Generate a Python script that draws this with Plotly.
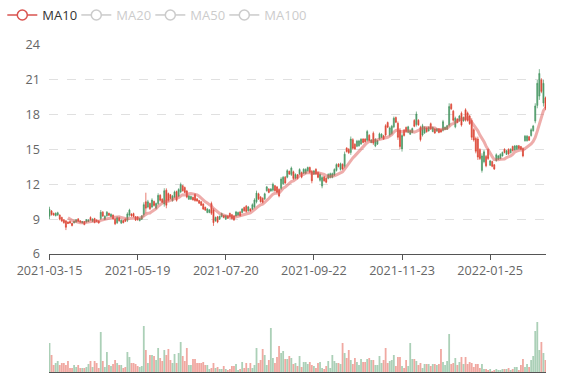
import plotly.graph_objects as go
import pandas as pd

# ---------------- categories (trading days) ----------------
closed_days = ["2021-04-05", "2021-05-03", "2021-05-04", "2021-05-05", "2021-06-14",
               "2021-09-03", "2021-09-20", "2021-09-21", "2021-10-01", "2021-12-31",
               "2022-01-03", "2022-01-31", "2022-02-01", "2022-02-02", "2022-02-03",
               "2022-02-04"]
dates = [d.strftime("%Y-%m-%d") for d in pd.bdate_range("2021-03-15", "2022-03-10")
         if d.strftime("%Y-%m-%d") not in closed_days]

tick_labels = ["2021-03-15", "2021-05-19", "2021-07-20", "2021-09-22", "2021-11-23", "2022-01-25"]
price_ticks = [6, 9, 12, 15, 18, 21, 24]

# ---------------- OHLC ----------------
opens = [
    9.25, 9.70, 9.50, 9.30, 9.35, 9.35, 9.15, 8.95, 8.85, 8.75,
    8.80, 8.65, 8.68, 8.76, 9.02, 8.86, 8.68, 8.78, 8.76, 8.80,
    9.15, 8.82, 9.05, 8.93, 8.85, 9.05, 9.60, 9.00, 9.30, 9.50,
    9.22, 9.35, 9.00, 8.70, 9.12, 8.66, 8.88, 9.00, 8.90, 9.35,
    9.45, 9.48, 9.20, 9.18, 8.88, 9.00, 9.40, 10.50,
    10.05, 10.35, 10.05, 10.52, 9.95, 10.35, 11.05, 10.72, 10.30, 11.50, 11.20, 11.10,
    10.60, 10.90, 11.38, 10.98, 11.35, 11.88, 11.72, 11.42, 10.72, 10.72,
    10.88, 11.12, 10.75, 10.60, 10.50, 10.30, 10.02, 9.58, 9.58, 10.35,
    9.80, 8.85, 9.20, 9.00, 9.22, 9.32, 9.00, 9.28, 9.50, 9.38,
    9.28, 9.28, 9.35, 9.62, 9.58, 10.00,
    10.12, 9.72, 9.88, 9.85, 10.05, 10.50, 11.18, 10.90, 10.80, 10.75,
    11.45, 11.60, 11.42, 11.50, 11.88, 11.78, 11.55, 11.65, 12.05, 12.62,
    12.62, 13.12, 12.85, 13.08, 12.52, 12.82, 12.90, 13.02, 12.96, 12.95,
    13.16, 13.45, 13.12, 12.88, 13.30, 13.02, 12.35, 11.85, 12.65, 12.52,
    12.52, 12.60, 12.60, 12.82, 13.20, 13.75, 13.28, 13.72,
    13.55, 15.12, 15.02, 14.75, 15.85, 15.45, 15.28, 15.32, 15.48, 15.90,
    15.90, 15.80, 16.22, 15.60, 16.40, 15.30, 15.46, 15.92, 16.04, 16.18,
    17.05, 17.32, 16.25, 16.38, 16.95, 17.75, 17.25, 16.65, 15.05, 16.66,
    16.90, 16.48, 16.32, 16.46, 17.50, 17.15, 17.52, 16.90, 16.25, 16.42,
    16.85, 16.60, 17.22, 16.55, 16.76, 16.58, 16.78, 16.70, 16.65,
    16.72, 16.75, 17.10, 18.90, 18.30, 16.95, 17.62, 17.48, 18.12, 17.46,
    18.42, 18.15, 17.88, 17.50, 16.70, 15.95, 15.90, 15.00, 13.20, 13.95,
    14.40, 14.98, 13.65, 13.96, 13.68, 14.05, 14.16, 14.22, 14.45, 15.02,
    14.58, 15.02, 14.72, 15.26, 14.96, 15.02, 15.32, 15.25, 15.08, 15.75,
    15.76, 16.10, 16.20, 16.62, 17.45, 18.80, 19.60, 20.98, 19.00, 19.45,
]
closes = [
    9.85, 9.40, 9.35, 9.50, 9.55, 9.00, 8.85, 8.70, 8.30, 8.62,
    8.66, 8.45, 8.82, 8.95, 8.82, 8.74, 8.80, 8.55, 8.95, 8.93,
    8.95, 9.00, 8.72, 8.80, 8.68, 9.60, 9.28, 9.25, 9.60, 9.33,
    9.42, 9.02, 8.60, 9.12, 8.86, 8.90, 8.70, 8.82, 9.45, 9.78,
    9.28, 9.22, 8.92, 8.95, 9.05, 9.28, 10.25, 9.95,
    10.50, 9.90, 10.65, 10.18, 10.35, 11.05, 10.62, 10.45, 11.45, 10.20, 10.62, 10.78,
    10.98, 11.35, 10.62, 11.55, 11.98, 11.45, 11.30, 10.90, 11.00, 10.96,
    10.66, 10.60, 10.56, 10.38, 10.20, 9.88, 9.78, 9.88, 9.80, 9.50,
    8.70, 9.15, 8.75, 9.25, 9.48, 9.14, 9.30, 9.08, 9.22, 9.06,
    8.95, 9.62, 9.58, 9.30, 9.88, 9.72,
    9.65, 10.05, 9.70, 10.25, 10.65, 11.25, 10.75, 10.50, 10.45, 11.18,
    11.78, 11.30, 11.60, 12.00, 11.45, 11.32, 11.00, 12.45, 12.60, 12.12,
    13.18, 12.88, 13.40, 12.50, 12.85, 12.52, 13.28, 12.62, 13.30, 13.28,
    13.45, 13.05, 12.30, 13.15, 12.90, 12.60, 12.85, 12.58, 12.30, 12.18,
    12.85, 12.92, 12.92, 13.28, 13.70, 13.52, 13.78, 13.32,
    14.60, 14.82, 14.72, 15.90, 15.10, 15.05, 15.72, 15.74, 15.88, 15.60,
    15.66, 16.55, 15.78, 15.82, 15.55, 15.88, 15.76, 16.35, 16.32, 15.90,
    16.25, 16.92, 16.86, 17.00, 17.70, 17.35, 16.05, 15.25, 16.20, 16.20,
    16.54, 16.95, 16.62, 16.80, 17.00, 18.05, 17.12, 15.85, 17.05, 16.90,
    16.52, 16.92, 16.78, 16.90, 16.42, 16.78, 16.46, 16.50, 17.40,
    16.92, 17.05, 18.70, 18.50, 17.52, 17.70, 17.32, 17.88, 17.10, 17.76,
    17.52, 17.50, 17.22, 16.05, 15.82, 14.85, 14.35, 14.22, 14.45, 14.80,
    13.60, 14.22, 14.02, 13.55, 13.32, 14.55, 14.45, 14.58, 14.75, 14.74,
    14.90, 14.62, 15.02, 14.90, 15.30, 15.32, 15.08, 15.02, 14.45, 16.15,
    16.14, 15.80, 16.70, 17.02, 18.75, 20.70, 21.55, 20.00, 20.70, 18.55,
]
lows = [
    9.01, 9.30, 9.30, 9.24, 9.30, 8.90, 8.75, 8.61, 8.06, 8.58,
    8.61, 8.38, 8.64, 8.70, 8.75, 8.70, 8.64, 8.47, 8.70, 8.75,
    8.87, 8.75, 8.64, 8.75, 8.61, 8.93, 9.18, 8.93, 9.21, 9.27,
    9.15, 8.93, 8.49, 8.58, 8.78, 8.58, 8.64, 8.75, 8.75, 9.21,
    9.21, 9.15, 8.84, 8.87, 8.81, 8.93, 9.21, 9.50,
    9.94, 9.79, 9.94, 10.08, 9.85, 10.23, 10.51, 10.37, 10.08, 9.94, 10.51, 10.71,
    10.51, 10.80, 10.51, 10.89, 11.23, 11.38, 11.23, 10.80, 10.66, 10.66,
    10.60, 10.51, 10.51, 10.31, 10.14, 9.79, 9.71, 9.51, 9.51, 9.36,
    8.42, 8.79, 8.65, 8.93, 9.16, 9.08, 8.93, 9.02, 9.16, 8.99,
    8.85, 9.22, 9.28, 9.22, 9.51, 9.65,
    9.56, 9.65, 9.65, 9.79, 9.93, 10.36, 10.65, 10.42, 10.36, 10.65,
    11.37, 11.23, 11.37, 11.37, 11.37, 11.23, 10.88, 11.51, 11.95, 12.03,
    12.52, 12.81, 12.72, 12.38, 12.43, 12.43, 12.81, 12.52, 12.89, 12.87,
    13.10, 12.95, 12.09, 12.81, 12.81, 12.52, 12.23, 11.66, 12.23, 12.09,
    12.43, 12.52, 12.52, 12.72, 13.10, 13.47, 13.18, 13.24,
    13.39, 14.74, 14.62, 14.54, 14.97, 14.97, 15.20, 15.25, 15.40, 15.54,
    15.60, 15.69, 15.69, 15.54, 15.40, 15.20, 15.40, 15.83, 15.97, 15.83,
    16.12, 16.84, 16.12, 16.26, 16.84, 17.27, 15.83, 15.02, 14.82, 16.12,
    16.46, 16.40, 16.26, 16.40, 16.92, 16.98, 17.04, 15.69, 16.12, 16.35,
    16.46, 16.55, 16.69, 16.49, 16.35, 16.55, 16.40, 16.46, 16.55,
    16.69, 16.69, 16.97, 18.41, 17.40, 16.83, 17.26, 17.40, 16.97, 17.40,
    17.40, 17.40, 17.12, 15.82, 15.68, 14.67, 14.10, 14.10, 13.01, 13.81,
    13.47, 14.10, 13.58, 13.47, 13.24, 13.95, 14.10, 14.16, 14.39, 14.67,
    14.53, 14.53, 14.67, 14.82, 14.90, 14.96, 15.02, 14.96, 14.33, 15.68,
    15.68, 15.74, 16.11, 16.54, 17.26, 18.55, 19.27, 19.85, 18.70, 18.41,
]
highs = [
    10.07, 9.79, 9.56, 9.59, 9.64, 9.41, 9.21, 9.01, 8.93, 8.81,
    8.87, 8.70, 8.87, 9.01, 9.10, 8.90, 8.84, 8.84, 9.01, 8.98,
    9.24, 9.07, 9.12, 8.98, 8.90, 9.79, 9.70, 9.33, 9.70, 9.56,
    9.50, 9.41, 9.10, 9.24, 9.21, 8.98, 8.93, 9.07, 9.59, 9.90,
    9.50, 9.56, 9.27, 9.27, 9.12, 9.36, 10.45, 11.28,
    10.66, 10.43, 10.80, 10.60, 10.43, 11.23, 11.15, 10.80, 11.66, 11.66, 11.29, 11.17,
    11.09, 11.46, 11.46, 11.66, 12.15, 11.95, 11.81, 11.52, 11.09, 11.03,
    10.94, 11.23, 10.80, 10.66, 10.57, 10.37, 10.08, 9.94, 9.88, 10.51,
    9.94, 9.22, 9.28, 9.31, 9.56, 9.36, 9.36, 9.33, 9.56, 9.45,
    9.36, 9.71, 9.65, 9.71, 9.94, 10.08,
    10.22, 10.14, 9.93, 10.36, 10.80, 11.46, 11.28, 11.00, 10.88, 11.28,
    11.86, 11.66, 11.66, 12.15, 11.95, 11.86, 11.66, 12.61, 12.72, 12.72,
    13.30, 13.18, 13.53, 13.18, 12.95, 12.89, 13.38, 13.10, 13.38, 13.38,
    13.53, 13.53, 13.24, 13.24, 13.38, 13.10, 12.95, 12.72, 12.72, 12.61,
    12.95, 13.01, 13.01, 13.38, 13.81, 13.81, 13.87, 13.81,
    14.82, 15.20, 15.11, 16.12, 15.97, 15.54, 15.83, 15.83, 15.97, 15.97,
    15.97, 16.69, 16.32, 15.89, 16.55, 15.97, 15.83, 16.46, 16.40, 16.26,
    17.18, 17.41, 16.98, 17.12, 17.84, 17.84, 17.41, 16.84, 16.40, 16.75,
    16.98, 17.04, 16.69, 16.89, 17.61, 18.27, 17.61, 17.04, 17.21, 16.98,
    16.92, 16.98, 17.32, 16.98, 16.84, 16.84, 16.84, 16.75, 17.55,
    16.97, 17.12, 18.98, 18.98, 18.41, 17.83, 17.69, 17.98, 18.27, 17.83,
    18.55, 18.27, 17.98, 17.69, 16.83, 16.11, 16.11, 15.10, 14.67, 14.96,
    14.53, 15.10, 14.10, 14.04, 13.75, 14.67, 14.53, 14.67, 14.82, 15.10,
    14.96, 15.10, 15.10, 15.33, 15.39, 15.39, 15.39, 15.31, 15.19, 16.25,
    16.25, 16.17, 16.83, 17.12, 18.98, 20.99, 21.92, 21.14, 20.99, 19.56,
]

# ---------------- volume ----------------
volumes = [
    29, 17, 7, 9, 11, 7, 9, 9, 7, 11,
    4, 4, 7, 5, 7, 4, 4, 4, 5, 8,
    11, 5, 11, 9, 4, 40, 11, 5, 20,
    7, 6, 8, 12, 9, 7, 7, 4, 5, 20,
    15, 9, 9, 8, 6, 5, 6, 46, 22, 9,
    17, 17, 16, 12, 24, 14, 11, 22, 17, 23,
    12, 9, 18, 9, 19, 30, 16, 11, 24,
    7, 7, 13, 13, 9, 9, 9, 10, 7, 7,
    3, 4, 9, 4, 5, 3, 3, 6, 3, 2,
    3, 6, 6, 8, 2, 3, 10, 4, 9, 4,
    9, 4, 7, 24, 9, 12, 23, 17, 7,
    12, 44, 14, 9, 15, 26, 19, 21, 13, 13,
    16, 14, 8, 9, 6, 16,
    5, 10, 10, 8, 10, 7, 6, 4, 9, 10,
    4, 3, 6, 11, 4, 17, 11, 9, 9,
    8, 29, 19, 14, 22, 12, 8, 14, 10, 7,
    13, 10, 10, 13, 14, 12, 12, 7, 7, 16,
    9, 12, 24, 9, 11, 12, 17, 6, 15, 15,
    6, 4, 12, 6, 29, 13, 13, 11, 7,
    9, 4, 8, 8, 8, 6, 8, 8, 7, 8,
    23, 10, 7, 11, 38, 8, 9, 14, 7, 10,
    15, 8, 15, 8, 10, 9, 5, 8, 8, 4,
    8, 3, 3, 2, 3, 1, 2, 3, 2,
    2, 3, 3, 3, 4, 2, 3, 5, 5, 2,
    7, 13, 5, 8, 5, 12, 16, 41, 50, 22,
    30, 19, 12,
]


def moving_average(values, n):
    out = []
    for i in range(len(values)):
        if i < n - 1:
            out.append(None)
        else:
            out.append(round(sum(values[i - n + 1:i + 1]) / n, 3))
    return out


UP = "#4a9866"
DOWN = "#dc4534"
UP_VOL = "rgba(79,157,105,0.48)"
DOWN_VOL = "rgba(224,74,58,0.48)"
MA10_COLOR = "#d9534f"

vol_colors = [UP_VOL if c >= o else DOWN_VOL for o, c in zip(opens, closes)]

fig = go.Figure()

fig.add_trace(go.Candlestick(
    x=dates, open=opens, high=highs, low=lows, close=closes,
    increasing=dict(line=dict(color=UP, width=0.7), fillcolor=UP),
    decreasing=dict(line=dict(color=DOWN, width=0.7), fillcolor=DOWN),
    whiskerwidth=0, showlegend=False, name="日K", xaxis="x", yaxis="y",
))

fig.add_trace(go.Scatter(
    x=dates, y=moving_average(closes, 10), mode="lines",
    line=dict(color="rgba(221,90,86,0.5)", width=3),
    showlegend=False, legendgroup="MA10", hoverinfo="skip", xaxis="x", yaxis="y",
))
fig.add_trace(go.Scatter(
    x=[None], y=[None], mode="lines+markers", name="MA10", legendgroup="MA10",
    line=dict(color=MA10_COLOR, width=1.5),
    marker=dict(symbol="circle", size=10, color="white", line=dict(color=MA10_COLOR, width=1.5)),
    xaxis="x", yaxis="y",
))
for label, n in [("MA20", 20), ("MA50", 50), ("MA100", 100)]:
    fig.add_trace(go.Scatter(
        x=dates, y=moving_average(closes, n), mode="lines+markers",
        name=f"<span style='color:#999'>{label}</span>", visible="legendonly",
        line=dict(color="#999", width=1.5),
        marker=dict(symbol="circle", size=10, color="white", line=dict(color="#999", width=1.5)),
        xaxis="x", yaxis="y",
    ))
# blank spacer entry so the last legend label is not clipped
fig.add_trace(go.Scatter(
    x=[None], y=[None], mode="lines", name=" ", hoverinfo="skip",
    line=dict(color="rgba(0,0,0,0)", width=0), xaxis="x", yaxis="y",
))

fig.add_trace(go.Bar(
    x=dates, y=volumes, marker=dict(color=vol_colors, line=dict(width=0)),
    showlegend=False, name="Volume", xaxis="x2", yaxis="y2",
))

plot_h = 380 - 45 - 8
fig.update_layout(
    width=577, height=380,
    margin=dict(l=49, r=31, t=45, b=8, autoexpand=False),
    paper_bgcolor="white", plot_bgcolor="white",
    font=dict(family="Open Sans, Noto Sans, sans-serif", size=12, color="#666"),
    bargap=0.12,
    showlegend=True,
    legend=dict(orientation="h", xref="container", yref="container",
                x=0.004, xanchor="left", y=1.0, yanchor="top",
                font=dict(size=13, color="#333"), itemsizing="trace",
                entrywidth=29, entrywidthmode="pixels",
                bgcolor="rgba(0,0,0,0)"),
    xaxis=dict(type="category", categoryorder="array", categoryarray=dates,
               range=[-0.25, len(dates) - 0.75], anchor="y", domain=[0, 1],
               automargin=False,
               tickmode="array", tickvals=tick_labels, ticktext=tick_labels,
               ticks="outside", ticklen=5, tickcolor="#555",
               showline=True, linecolor="#555", linewidth=1, showgrid=False,
               rangeslider=dict(visible=False), tickfont=dict(color="#666", size=12.6)),
    yaxis=dict(domain=[(372 - 254) / plot_h, 1], range=[6, 24], tickvals=price_ticks,
               automargin=False,
               showgrid=True, gridcolor="#e0e0e0", griddash="dash", gridwidth=1,
               zeroline=False, showline=False, ticks="", ticklabelstandoff=8,
               tickfont=dict(color="#666", size=12.6)),
    xaxis2=dict(type="category", matches="x", anchor="y2", showticklabels=False,
                automargin=False,
                ticks="", showline=True, linecolor="#555", linewidth=1, showgrid=False),
    yaxis2=dict(domain=[0, 62 / plot_h], range=[0, 62], showticklabels=False,
                automargin=False,
                showgrid=False, zeroline=False, showline=False),
)

fig.write_html("out.html", config={"displayModeBar": False},
               post_script="document.body.style.margin='0';document.body.style.overflow='hidden';")
